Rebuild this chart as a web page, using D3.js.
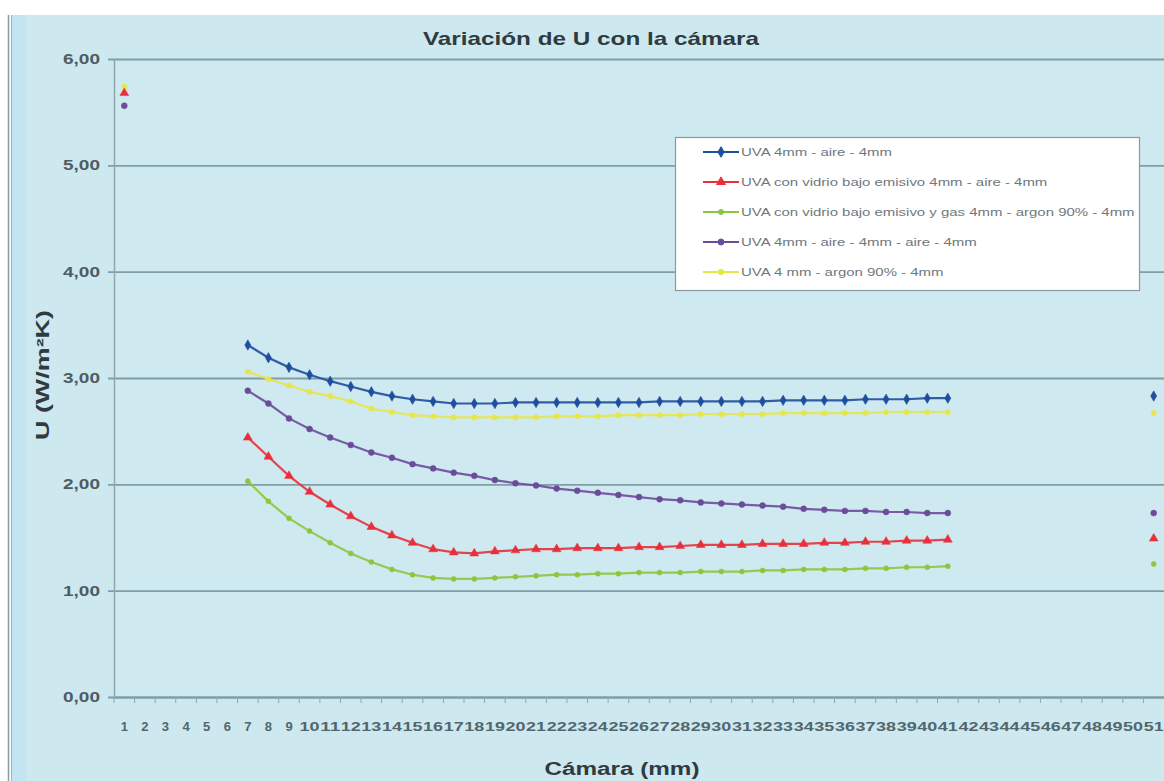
<!DOCTYPE html>
<html><head><meta charset="utf-8">
<script src="https://cdn.jsdelivr.net/npm/d3@7"></script>
<style>
html,body{margin:0;padding:0;background:#fff;}
svg{display:block;font-family:"Liberation Sans",Arial,sans-serif;}
</style></head>
<body><svg id="chart" width="1164" height="781"></svg>
<script>
// ---- data ----
const categories = ["1","2","3","4","5","6","7","8","9","10","11","12","13","14","15","16","17","18","19","20","21","22","23","24","25","26","27","28","29","30","31","32","33","34","35","36","37","38","39","40","41","42","43","44","45","46","47","48","49","50","51"];
const lineCats = ["7","8","9","10","11","12","13","14","15","16","17","18","19","20","21","22","23","24","25","26","27","28","29","30","31","32","33","34","35","36","37","38","39","40","41"];
const seriesNames = [
  "UVA  4mm - aire - 4mm",
  "UVA con vidrio bajo emisivo 4mm - aire - 4mm",
  "UVA con vidrio bajo emisivo y gas 4mm - argon 90% - 4mm",
  "UVA  4mm - aire - 4mm - aire - 4mm",
  "UVA 4 mm - argon 90% - 4mm"
];
const uBlue   = [3.31,3.19,3.10,3.03,2.97,2.92,2.87,2.83,2.80,2.78,2.76,2.76,2.76,2.77,2.77,2.77,2.77,2.77,2.77,2.77,2.78,2.78,2.78,2.78,2.78,2.78,2.79,2.79,2.79,2.79,2.80,2.80,2.80,2.81,2.81];
const uRed    = [2.44,2.26,2.08,1.93,1.81,1.70,1.60,1.52,1.45,1.39,1.36,1.35,1.37,1.38,1.39,1.39,1.40,1.40,1.40,1.41,1.41,1.42,1.43,1.43,1.43,1.44,1.44,1.44,1.45,1.45,1.46,1.46,1.47,1.47,1.48];
const uGreen  = [2.03,1.84,1.68,1.56,1.45,1.35,1.27,1.20,1.15,1.12,1.11,1.11,1.12,1.13,1.14,1.15,1.15,1.16,1.16,1.17,1.17,1.17,1.18,1.18,1.18,1.19,1.19,1.20,1.20,1.20,1.21,1.21,1.22,1.22,1.23];
const uPurple = [2.88,2.76,2.62,2.52,2.44,2.37,2.30,2.25,2.19,2.15,2.11,2.08,2.04,2.01,1.99,1.96,1.94,1.92,1.90,1.88,1.86,1.85,1.83,1.82,1.81,1.80,1.79,1.77,1.76,1.75,1.75,1.74,1.74,1.73,1.73];
const uYellow = [3.06,2.99,2.93,2.87,2.83,2.78,2.71,2.68,2.65,2.64,2.63,2.63,2.63,2.63,2.63,2.64,2.64,2.64,2.65,2.65,2.65,2.65,2.66,2.66,2.66,2.66,2.67,2.67,2.67,2.67,2.67,2.68,2.68,2.68,2.68];
// isolated points (order: blue, red, green, purple, yellow; null = none)
const uAt1  = [null, 5.68, null, 5.56, 5.74];
const uAt51 = [2.83, 1.49, 1.25, 1.73, 2.67];
const yTicks = [0,1,2,3,4,5,6];

// ---- styles ----
const colors = ["#1f4e9e","#e8303c","#8cc63e","#6b4c9a","#e6e64a"];
const symbols = [d3.symbolDiamond, d3.symbolTriangle, d3.symbolCircle, d3.symbolCircle, d3.symbolCircle];
const symSizes = [32, 34, 20, 28, 22];

const svg = d3.select("#chart");
const W = 1164, H = 781;

// background
svg.append("rect").attr("x",0).attr("y",0).attr("width",W).attr("height",H).attr("fill","#ffffff");
svg.append("rect").attr("x",12).attr("y",15).attr("width",W-12).attr("height",H-15).attr("fill","#cde8ef");
svg.append("rect").attr("x",12).attr("y",15).attr("width",14).attr("height",H-15).attr("fill","#c3e5f2");
svg.append("line").attr("x1",8.5).attr("x2",8.5).attr("y1",15).attr("y2",H).attr("stroke","#8a9ca4").attr("stroke-width",1.5);
svg.append("line").attr("x1",11.5).attr("x2",11.5).attr("y1",15).attr("y2",H).attr("stroke","#9fb3ba").attr("stroke-width",1);

const x = d3.scaleBand().domain(categories).range([114, 1164]);
const y = d3.scaleLinear().domain([0,6]).range([697, 59]);
const cx = c => x(c) + x.bandwidth()/2;

// plot area
svg.append("rect").attr("x",114).attr("y",59).attr("width",1164-114).attr("height",697-59).attr("fill","#cfe9f0");

// gridlines + y axis
const yAxis = d3.axisLeft(y).tickValues(yTicks).tickSize(-(1164-108)).tickPadding(8)
  .tickFormat(d => d3.format(".2f")(d).replace(".", ","));
const gy = svg.append("g").attr("transform","translate(108,0)").call(yAxis);
gy.select(".domain").remove();
gy.selectAll(".tick line").attr("stroke","#7f9ea8").attr("stroke-width",1.8);
gy.selectAll(".tick text").attr("fill","#4d5d63").attr("font-size",14).attr("font-weight","bold")
  .attr("textLength",37).attr("lengthAdjust","spacingAndGlyphs");

// left axis line
svg.append("line").attr("x1",114.5).attr("x2",114.5).attr("y1",59).attr("y2",697).attr("stroke","#8ea8b0").attr("stroke-width",1.5);

// x axis
const xAxis = d3.axisBottom(x).tickSize(0).tickPadding(25);
const gx = svg.append("g").attr("transform","translate(0,697)").call(xAxis);
gx.select(".domain").attr("stroke","#7f9ea8").attr("stroke-width",1.8);
gx.selectAll(".tick text").attr("fill","#52666d").attr("font-size",13).attr("font-weight","bold")
  .attr("textLength", d => d.length > 1 ? 20 : null).attr("lengthAdjust","spacingAndGlyphs");
// category boundary ticks
svg.append("g").selectAll("line").data(categories).join("line")
  .attr("x1", d => x(d)).attr("x2", d => x(d)).attr("y1",697).attr("y2",703)
  .attr("stroke","#8ea8b0").attr("stroke-width",1);

// series
const seriesVals = [uBlue, uRed, uGreen, uPurple, uYellow];
const lineGen = d3.line().x(d => cx(d.c)).y(d => y(d.v));
const drawOrder = [4,3,2,1,0];
drawOrder.forEach(i => {
  const pts = lineCats.map((c,k) => ({c, v: seriesVals[i][k]}));
  const g = svg.append("g");
  g.append("path").datum(pts).attr("d", lineGen).attr("fill","none")
    .attr("stroke", colors[i]).attr("stroke-width", 2.2).attr("opacity",0.9);
  const extra = [];
  if (uAt1[i] != null) extra.push({c:"1", v:uAt1[i]});
  if (uAt51[i] != null) extra.push({c:"51", v:uAt51[i]});
  g.selectAll("path.m").data(pts.concat(extra)).join("path").attr("class","m")
    .attr("transform", d => `translate(${cx(d.c)},${y(d.v)})`)
    .attr("d", d3.symbol().type(symbols[i]).size(symSizes[i]))
    .attr("fill", colors[i]).attr("stroke", colors[i]).attr("stroke-width", 0.5);
});

// legend
const lg = svg.append("g");
lg.append("rect").attr("x",675.5).attr("y",137.5).attr("width",464).attr("height",153)
  .attr("fill","#ffffff").attr("stroke","#8a9aa0").attr("stroke-width",1.2);
const legY = d3.scalePoint().domain(d3.range(5)).range([152, 272]);
seriesNames.forEach((n,i) => {
  const yy = legY(i);
  lg.append("line").attr("x1",703).attr("x2",739).attr("y1",yy).attr("y2",yy)
    .attr("stroke",colors[i]).attr("stroke-width",2.2);
  lg.append("path").attr("transform",`translate(721,${yy})`)
    .attr("d", d3.symbol().type(symbols[i]).size(symSizes[i])).attr("fill",colors[i]).attr("stroke",colors[i]);
  const t = lg.append("text").attr("x",741).attr("y",yy+4).attr("font-size",11.5).attr("fill","#6f787d").text(n);
  const w = t.node().getComputedTextLength();
  t.attr("textLength", w*1.3).attr("lengthAdjust","spacingAndGlyphs");
});

// titles
svg.append("text").attr("x",591).attr("y",45).attr("text-anchor","middle")
  .attr("font-size",19).attr("font-weight","bold").attr("fill","#2f3b40")
  .attr("textLength",336).attr("lengthAdjust","spacingAndGlyphs").text("Variación de U con la cámara");
svg.append("text").attr("x",622).attr("y",775).attr("text-anchor","middle")
  .attr("font-size",18).attr("font-weight","bold").attr("fill","#2f3b40")
  .attr("textLength",155).attr("lengthAdjust","spacingAndGlyphs").text("Cámara (mm)");
svg.append("text").attr("transform","translate(49,375) rotate(-90)").attr("text-anchor","middle")
  .attr("font-size",18).attr("font-weight","bold").attr("fill","#2f3b40")
  .attr("textLength",130).attr("lengthAdjust","spacingAndGlyphs").text("U (W/m²K)");
</script></body></html>
